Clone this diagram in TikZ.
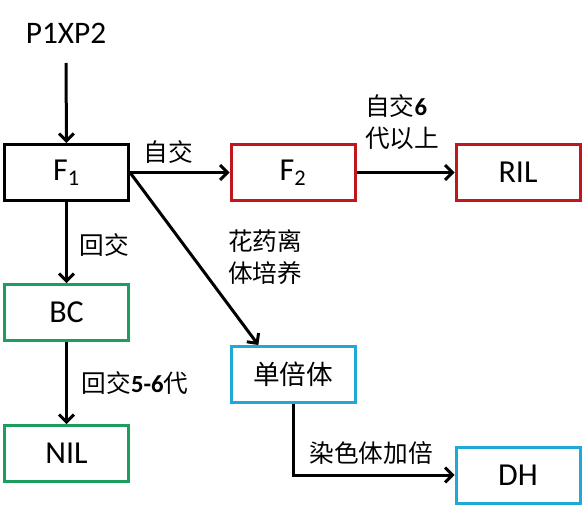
\documentclass[tikz,border=0pt]{standalone}
\usepackage{fontspec}
\setmainfont{Carlito}
\newfontfamily\cjk{Noto Sans CJK SC}
\usetikzlibrary{arrows.meta,calc}
\definecolor{boxred}{HTML}{C0161E}
\definecolor{boxgreen}{HTML}{1E9E5E}
\definecolor{boxblue}{HTML}{1FA8D8}
\begin{document}
\begin{tikzpicture}[x=0.75pt,y=-0.75pt,
  box/.style={draw,line width=2.25pt,minimum width=93pt,minimum height=42pt,inner sep=0pt,font=\fontsize{24}{28}\selectfont},
  cbox/.style={box,font=\fontsize{20}{24}\cjk},
  lab/.style={inner sep=0pt,font=\fontsize{18.5}{24}\cjk,align=left},
  arr/.style={line width=2.25pt,-{Straight Barb[length=5.5pt,width=11pt,line width=2.25pt]}}]
\useasboundingbox (0,0) rectangle (584,513);
\node[inner sep=0pt,font=\fontsize{23.5}{26}\selectfont] (p) at (66,33) {P1XP2};
\coordinate (ps) at (66,63);
\node[box] (f1) at (66.5,172.5) {F\textsubscript{1}};
\node[box,draw=boxred] (f2) at (293,172.5) {F\textsubscript{2}};
\node[box,draw=boxred] (ril) at (518,172.5) {RIL};
\node[box,draw=boxgreen] (bc) at (66.5,312.5) {BC};
\node[box,draw=boxgreen] (nil) at (66.5,453.5) {NIL};
\node[cbox,draw=boxblue] (hap) at (293,374.5) {单倍体};
\node[box,draw=boxblue] (dh) at (518,475) {DH};
\draw[arr] (ps) -- (f1.north);
\draw[arr] (f1.east) -- (f2.west);
\draw[arr] (f2.east) -- (ril.west);
\draw[arr] (f1.south) -- (bc.north);
\draw[arr] (bc.south) -- (nil.north);
\draw[arr] (f1.east) -- ([xshift=-26pt]hap.north);
\draw[arr] (hap.south) |- (dh.west);
\node[lab] (l1) at (168,152) {自交};
\node[lab,anchor=west] (l2) at (365,122) {自交{\bfseries\rmfamily 6}\\代以上};
\node[lab] (l3) at (104,245) {回交};
\node[lab] (l4) at (135,383) {回交{\bfseries\rmfamily 5-6}代};
\node[lab,anchor=west] (l5) at (228,257) {花药离\\体培养};
\node[lab] (l6) at (371,453) {染色体加倍};
\end{tikzpicture}
\end{document}
